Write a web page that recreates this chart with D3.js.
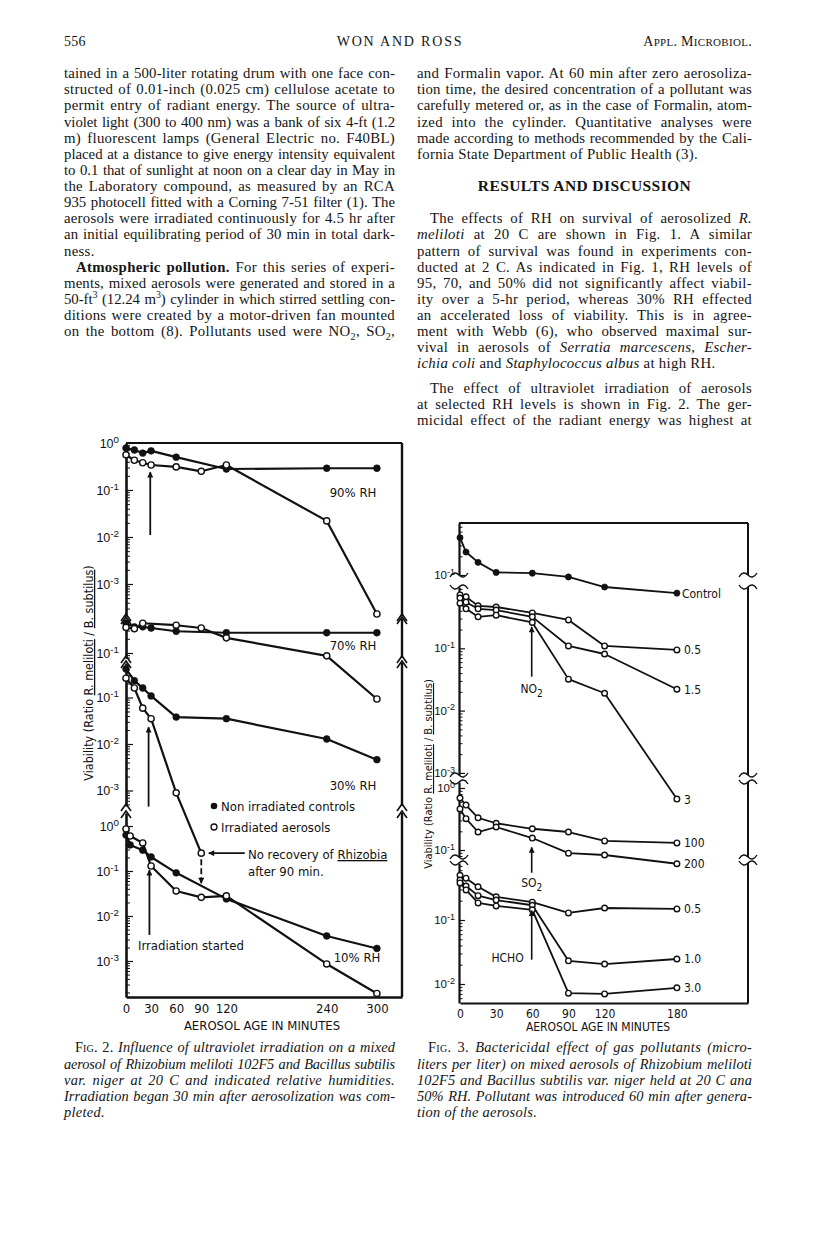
<!DOCTYPE html>
<html><head><meta charset="utf-8">
<script src="https://cdn.jsdelivr.net/npm/d3@7"></script>
<style>
body{margin:0;background:#fff;}
#page{position:relative;width:816px;height:1251px;overflow:hidden;font-family:"Liberation Serif","Times New Roman",serif;color:#141414;background:#fff;}
.ln{position:absolute;height:18px;line-height:18px;font-size:14.8px;letter-spacing:0.3px;white-space:nowrap;}
.cap{font-size:14.4px;letter-spacing:0.3px;}
.hd{font-size:14px;}
.sc{font-variant:small-caps;font-style:normal;}
sub,sup{line-height:0;font-size:10px;}
svg{position:absolute;left:0;top:0;}
</style></head>
<body><div id="page"></div>
<script>
// ---------------- Fig. 2 data (time in minutes, viability ratio) ----------------
const fig2XTicks=[0,30,60,90,120,240,300];
const rh90CtrlT=[0,10,20,30,60,120,240,300];
const rh90CtrlV=[0.78,0.71,0.61,0.68,0.50,0.28,0.29,0.29];
const rh90IrrT=[0,10,20,30,60,90,120,240,300];
const rh90IrrV=[0.56,0.43,0.38,0.34,0.31,0.25,0.34,0.022,0.00023];
const rh70CtrlT=[0,10,20,30,60,120,240,300];
const rh70CtrlV=[0.43,0.36,0.36,0.34,0.29,0.27,0.27,0.27];
const rh70IrrT=[0,10,20,60,90,120,240,300];
const rh70IrrV=[0.35,0.33,0.43,0.39,0.34,0.21,0.087,0.0105];
const rh30CtrlT=[0,10,20,30,60,120,240,300];
const rh30CtrlV=[0.41,0.23,0.16,0.108,0.038,0.035,0.0128,0.0046];
const rh30IrrT=[0,10,20,30,60,90];
const rh30IrrV=[0.26,0.16,0.059,0.035,0.00089,0.000045];
const rh10CtrlT=[0,5,20,30,60,120,240,300];
const rh10CtrlV=[0.63,0.38,0.29,0.205,0.091,0.024,0.0036,0.0019];
const rh10IrrT=[0,5,20,30,60,90,120,240,300];
const rh10IrrV=[0.86,0.60,0.42,0.129,0.036,0.026,0.028,0.00086,0.00019];
const fig2PanelLabels=["90% RH","70% RH","30% RH","10% RH"];

// ---------------- Fig. 3 data ----------------
const fig3XTicks=[0,30,60,90,120,180];
const fig3T=[0,5,15,30,60,90,120,180];
const ctrlV=[0.40,0.235,0.16,0.11,0.107,0.093,0.064,0.051];
const no2_05V=[0.72,0.67,0.48,0.46,0.37,0.285,0.109,0.094];
const no2_15V=[0.64,0.55,0.43,0.41,0.32,0.109,0.081,0.022];
const no2_3V=[0.53,0.43,0.32,0.34,0.26,0.032,0.019,0.00038];
const so2_100V=[0.69,0.53,0.33,0.27,0.22,0.195,0.14,0.13];
const so2_200V=[0.46,0.32,0.195,0.235,0.156,0.089,0.083,0.06];
const hcho_05V=[0.50,0.45,0.33,0.23,0.19,0.129,0.154,0.149];
const hcho_10V=[0.42,0.34,0.24,0.205,0.17,0.023,0.0205,0.0246];
const hcho_30V=[0.38,0.295,0.185,0.166,0.144,0.0072,0.0070,0.0087];
const fig3SeriesLabels=["Control","0.5","1.5","3","100","200","0.5","1.0","3.0"];
const pollutantLabels=["NO","SO","HCHO"];

// ---------------- page text ----------------
const L=64, LW=331, R=417, RW=335;
const textLines=[
 {x:64,y:42,h:"556",cls:"hd"},
 {x:300,y:42,w:200,h:"WON AND ROSS",cls:"hd",c:1,ls:1.8},
 {x:600,y:42,w:152,h:"A<span style='font-size:11px'>PPL</span>. M<span style='font-size:11px'>ICROBIOL</span>.",cls:"hd",r:1},
 {x:L,y:73,w:LW,j:1,h:"tained in a 500-liter rotating drum with one face con-"},
 {x:L,y:89,w:LW,j:1,h:"structed of 0.01-inch (0.025 cm) cellulose acetate to"},
 {x:L,y:105,w:LW,j:1,h:"permit entry of radiant energy. The source of ultra-"},
 {x:L,y:122,w:LW,j:1,h:"violet light (300 to 400 nm) was a bank of six 4-ft (1.2"},
 {x:L,y:138,w:LW,j:1,h:"m) fluorescent lamps (General Electric no. F40BL)"},
 {x:L,y:154,w:LW,j:1,h:"placed at a distance to give energy intensity equivalent"},
 {x:L,y:170,w:LW,j:1,h:"to 0.1 that of sunlight at noon on a clear day in May in"},
 {x:L,y:186,w:LW,j:1,h:"the Laboratory compound, as measured by an RCA"},
 {x:L,y:202,w:LW,j:1,h:"935 photocell fitted with a Corning 7-51 filter (1). The"},
 {x:L,y:218,w:LW,j:1,h:"aerosols were irradiated continuously for 4.5 hr after"},
 {x:L,y:234,w:LW,j:1,h:"an initial equilibrating period of 30 min in total dark-"},
 {x:L,y:251,h:"ness."},
 {x:L+12,y:267,w:LW-12,j:1,h:"<b>Atmospheric pollution.</b> For this series of experi-"},
 {x:L,y:283,w:LW,j:1,h:"ments, mixed aerosols were generated and stored in a"},
 {x:L,y:299,w:LW,j:1,h:"50-ft<sup>3</sup> (12.24 m<sup>3</sup>) cylinder in which stirred settling con-"},
 {x:L,y:315,w:LW,j:1,h:"ditions were created by a motor-driven fan mounted"},
 {x:L,y:331,w:LW,j:1,h:"on the bottom (8). Pollutants used were NO<sub>2</sub>, SO<sub>2</sub>,"},
 {x:R,y:73,w:RW,j:1,h:"and Formalin vapor. At 60 min after zero aerosoliza-"},
 {x:R,y:89,w:RW,j:1,h:"tion time, the desired concentration of a pollutant was"},
 {x:R,y:105,w:RW,j:1,h:"carefully metered or, as in the case of Formalin, atom-"},
 {x:R,y:122,w:RW,j:1,h:"ized into the cylinder. Quantitative analyses were"},
 {x:R,y:138,w:RW,j:1,h:"made according to methods recommended by the Cali-"},
 {x:R,y:154,h:"fornia State Department of Public Health (3)."},
 {x:R,y:186,w:RW,c:1,h:"<b style='font-size:15.5px;letter-spacing:0.4px'>RESULTS AND DISCUSSION</b>"},
 {x:R+13,y:218,w:RW-13,j:1,h:"The effects of RH on survival of aerosolized <i>R.</i>"},
 {x:R,y:234,w:RW,j:1,h:"<i>meliloti</i> at 20 C are shown in Fig. 1. A similar"},
 {x:R,y:251,w:RW,j:1,h:"pattern of survival was found in experiments con-"},
 {x:R,y:267,w:RW,j:1,h:"ducted at 2 C. As indicated in Fig. 1, RH levels of"},
 {x:R,y:283,w:RW,j:1,h:"95, 70, and 50% did not significantly affect viabil-"},
 {x:R,y:299,w:RW,j:1,h:"ity over a 5-hr period, whereas 30% RH effected"},
 {x:R,y:315,w:RW,j:1,h:"an accelerated loss of viability. This is in agree-"},
 {x:R,y:331,w:RW,j:1,h:"ment with Webb (6), who observed maximal sur-"},
 {x:R,y:347,w:RW,j:1,h:"vival in aerosols of <i>Serratia marcescens</i>, <i>Escher-</i>"},
 {x:R,y:363,h:"<i>ichia coli</i> and <i>Staphylococcus albus</i> at high RH."},
 {x:R+13,y:388,w:RW-13,j:1,h:"The effect of ultraviolet irradiation of aerosols"},
 {x:R,y:404,w:RW,j:1,h:"at selected RH levels is shown in Fig. 2. The ger-"},
 {x:R,y:420,w:RW,j:1,h:"micidal effect of the radiant energy was highest at"},
 {x:L+11,y:1047,w:LW-11,j:1,cls:"cap",h:"<span class='sc'>Fig. 2.</span> <i>Influence of ultraviolet irradiation on a mixed</i>"},
 {x:L,y:1064,w:LW,j:1,cls:"cap",h:"<i>aerosol of Rhizobium meliloti 102F5 and Bacillus subtilis</i>"},
 {x:L,y:1080,w:LW,j:1,cls:"cap",h:"<i>var. niger at 20 C and indicated relative humidities.</i>"},
 {x:L,y:1096,w:LW,j:1,cls:"cap",h:"<i>Irradiation began 30 min after aerosolization was com-</i>"},
 {x:L,y:1112,cls:"cap",h:"<i>pleted.</i>"},
 {x:R+11,y:1047,w:RW-11,j:1,cls:"cap",h:"<span class='sc'>Fig. 3.</span> <i>Bactericidal effect of gas pollutants (micro-</i>"},
 {x:R,y:1064,w:RW,j:1,cls:"cap",h:"<i>liters per liter) on mixed aerosols of Rhizobium meliloti</i>"},
 {x:R,y:1080,w:RW,j:1,cls:"cap",h:"<i>102F5 and Bacillus subtilis var. niger held at 20 C ana</i>"},
 {x:R,y:1096,w:RW,j:1,cls:"cap",h:"<i>50% RH. Pollutant was introduced 60 min after genera-</i>"},
 {x:R,y:1112,cls:"cap",h:"<i>tion of the aerosols.</i>"}
];

const page=d3.select('#page');
textLines.forEach(T=>{
  const d=page.append('div').attr('class','ln '+(T.cls||'')).style('left',T.x+'px').style('top',(T.y-9)+'px');
  if(T.w) d.style('width',T.w+'px');
  if(T.c) d.style('text-align','center');
  if(T.r) d.style('text-align','right');
  if(T.ls) d.style('letter-spacing',T.ls+'px');
  const s=d.append('span').html(T.h);
  if(T.j){
    let nat=s.node().getBoundingClientRect().width;
    const n=(s.node().textContent.match(/ /g)||[]).length;
    if(nat>T.w-n*1){ // too long: tighten letters
      const chars=s.node().textContent.length;
      const ls=0.3-((nat-(T.w-n*1))/chars);
      s.style('letter-spacing',ls+'px');
      nat=s.node().getBoundingClientRect().width;
    }
    if(n>0) s.style('word-spacing',((T.w-nat)/n)+'px');
  }
});

// ---------------- charts ----------------
const FONT="'Liberation Sans Narrow','DejaVu Sans Condensed','Roboto Condensed','Liberation Sans',sans-serif";
const svg=page.append('svg').attr('width',816).attr('height',1251).style('font-family',FONT);
const defs=svg.append('defs');
defs.append('marker').attr('id','ah2').attr('viewBox','0 0 10 10').attr('refX',9).attr('refY',5)
  .attr('markerWidth',11).attr('markerHeight',6).attr('markerUnits','userSpaceOnUse').attr('orient','auto')
  .append('path').attr('d','M0,0L10,5L0,10Z').attr('fill','#111');

function panelScale(top,bottom,y0,dec){
  return d3.scaleLog().domain([Math.pow(10,-(top-y0)/dec),Math.pow(10,-(bottom-y0)/dec)]).range([top,bottom]);
}
function logTicks(sc){
  const [a,b]=sc.domain(); const lo=Math.min(a,b), hi=Math.max(a,b);
  const maj=[],min=[];
  for(let e=Math.floor(Math.log10(lo))-1;e<=Math.ceil(Math.log10(hi))+1;e++){
    for(let k=1;k<10;k++){const v=k*Math.pow(10,e); if(v>=lo*0.999&&v<=hi*1.001)(k===1?maj:min).push(v);}
  }
  return {maj,min};
}
function supLabels(g,fs){
  g.selectAll('.tick text').each(function(d){
    const t=d3.select(this); const txt=t.text(); if(!txt) return;
    const e=Math.round(Math.log10(d));
    t.text('').attr('font-size',fs).attr('fill','#111');
    t.append('tspan').text('10');
    t.append('tspan').attr('dy','-0.5em').attr('font-size',fs*0.78).text(e===0?'0':'-'+(-e));
  });
}
function drawLeftAxis(g,sc,x,labelExps,o){
  const {maj,min}=logTicks(sc);
  const ax=d3.axisLeft(sc).tickValues(maj).tickSize(-o.major).tickSizeOuter(0).tickPadding(o.pad)
    .tickFormat(d=>labelExps.includes(Math.round(Math.log10(d)))?'x':'');
  const ga=g.append('g').attr('transform',`translate(${x},0)`).call(ax);
  ga.select('.domain').attr('stroke','#111').attr('stroke-width',o.sw);
  ga.selectAll('.tick line').attr('stroke','#111').attr('stroke-width',1.2);
  supLabels(ga,o.fs);
  const gm=g.append('g').attr('transform',`translate(${x},0)`)
    .call(d3.axisLeft(sc).tickValues(min).tickSize(-o.minor).tickSizeOuter(0).tickFormat(''));
  gm.select('.domain').remove();
  gm.selectAll('.tick line').attr('stroke','#111').attr('stroke-width',1);
}
function chevron(g,x,y,w){
  g.append('path').attr('d',`M${x-w},${y+5}L${x},${y-2}L${x+w},${y+5}`).attr('fill','none').attr('stroke','#111').attr('stroke-width',1.6);
}
function tilde(g,x,y,dir){
  g.append('path').attr('d',`M${x-9},${y+2*dir}C${x-6},${y-3*dir} ${x-3},${y-3*dir} ${x},${y}C${x+3},${y+3*dir} ${x+6},${y+3*dir} ${x+9},${y-2*dir}`)
   .attr('fill','none').attr('stroke','#111').attr('stroke-width',1.4);
}
function drawSeries(g,x,y,T,V,o){
  const pts=T.map((t,i)=>({t,v:V[i]}));
  g.append('path').datum(pts).attr('d',d3.line().x(d=>x(d.t)).y(d=>y(d.v)))
   .attr('fill','none').attr('stroke','#111').attr('stroke-width',o.lw).attr('stroke-linejoin','round');
  return pts;
}
function drawMarks(g,x,y,pts,filled,o){
  g.selectAll(null).data(pts).enter().append('circle')
   .attr('cx',d=>x(d.t)).attr('cy',d=>y(d.v)).attr('r',filled?o.rf:o.ro)
   .attr('fill',filled?'#111':'#fff').attr('stroke','#111').attr('stroke-width',filled?0.6:1.4);
}

// ======== FIG 2 ========
(function(){
  const g=svg.append('g');
  const x=d3.scaleLinear().domain([0,330]).range([126,402]);
  const X0=126, X1=402;
  const panels=[
    {sc:panelScale(443,616,443,47),labels:[0,-1,-2,-3]},
    {sc:panelScale(619,658,606,47),labels:[-1]},
    {sc:panelScale(663,806,651,46.5),labels:[-1,-2,-3]},
    {sc:panelScale(813,997,826,45),labels:[0,-1,-2,-3]}
  ];
  const o={major:7,minor:4,pad:7,sw:2.6,fs:12.5};
  panels.forEach(p=>{
    drawLeftAxis(g,p.sc,X0,p.labels,o);
    const [t,b]=p.sc.range();
    g.append('line').attr('x1',X1).attr('x2',X1).attr('y1',t).attr('y2',b).attr('stroke','#111').attr('stroke-width',2.4);
  });
  for(let i=0;i<panels.length-1;i++){
    const b=panels[i].sc.range()[1], t=panels[i+1].sc.range()[0];
    [X0,X1].forEach(xx=>{chevron(g,xx,b,5);chevron(g,xx,t,5);});
  }
  g.append('line').attr('x1',X0).attr('x2',X1).attr('y1',443).attr('y2',443).attr('stroke','#111').attr('stroke-width',2.2);
  const gx=g.append('g').attr('transform','translate(0,997)')
    .call(d3.axisBottom(x).tickValues(fig2XTicks).tickSize(0).tickSizeOuter(0).tickPadding(7));
  gx.select('.domain').attr('stroke','#111').attr('stroke-width',2.6);
  gx.selectAll('text').attr('font-size',13).attr('fill','#111').attr('font-family',FONT);
  g.append('text').attr('x',262).attr('y',1030).attr('text-anchor','middle').attr('font-size',13).attr('fill','#111')
   .text('AEROSOL AGE IN MINUTES');
  const yt=g.append('text').attr('transform','translate(93,673) rotate(-90)').attr('text-anchor','middle').attr('font-size',12.5).attr('fill','#111');
  yt.append('tspan').text('Viability (Ratio ');
  yt.append('tspan').attr('text-decoration','underline').text('R. meliloti');
  yt.append('tspan').text(' / ');
  yt.append('tspan').attr('text-decoration','underline').text('B. subtilus');
  yt.append('tspan').text(')');

  const opt={lw:2.2,rf:3.4,ro:3.1};
  const sets=[
    [0,rh90CtrlT,rh90CtrlV,true],[0,rh90IrrT,rh90IrrV,false],
    [1,rh70CtrlT,rh70CtrlV,true],[1,rh70IrrT,rh70IrrV,false],
    [2,rh30CtrlT,rh30CtrlV,true],[2,rh30IrrT,rh30IrrV,false],
    [3,rh10CtrlT,rh10CtrlV,true],[3,rh10IrrT,rh10IrrV,false]
  ];
  const drawn=sets.map(s=>({s,pts:drawSeries(g,x,panels[s[0]].sc,s[1],s[2],opt)}));
  drawn.forEach(d=>drawMarks(g,x,panels[d.s[0]].sc,d.pts,d.s[3],opt));

  const lab=[[353,497],[353,650],[353,790],[357,962]];
  fig2PanelLabels.forEach((t,i)=>g.append('text').attr('x',lab[i][0]).attr('y',lab[i][1]).attr('text-anchor','middle')
    .attr('font-size',13).attr('fill','#111').text(t));
  const arrow=(x1,y1,x2,y2,dash)=>g.append('line').attr('x1',x1).attr('y1',y1).attr('x2',x2).attr('y2',y2)
     .attr('stroke','#111').attr('stroke-width',1.8).attr('stroke-dasharray',dash||null).attr('marker-end','url(#ah2)');
  const p0=panels[0].sc,p2=panels[2].sc,p3=panels[3].sc;
  arrow(x(29),p0(0.011),x(29),p0(0.24));
  arrow(x(27),p2(0.00045),x(27),p2(0.023));
  arrow(x(28),p3(0.0038),x(28),p3(0.105));
  arrow(x(142),p2(0.000045),x(99),p2(0.000045));
  arrow(x(90),p2(0.000045)+6,x(90),p2(0.000045)+30,'6,3');
  g.append('circle').attr('cx',214).attr('cy',806).attr('r',3.3).attr('fill','#111');
  g.append('text').attr('x',221).attr('y',811).attr('font-size',13).attr('fill','#111').text('Non irradiated controls');
  g.append('circle').attr('cx',214).attr('cy',827).attr('r',3).attr('fill','#fff').attr('stroke','#111').attr('stroke-width',1.3);
  g.append('text').attr('x',221).attr('y',832).attr('font-size',13).attr('fill','#111').text('Irradiated aerosols');
  const nr=g.append('text').attr('x',248).attr('y',859).attr('font-size',13).attr('fill','#111');
  nr.append('tspan').text('No recovery of ');
  nr.append('tspan').attr('text-decoration','underline').text('Rhizobia');
  g.append('text').attr('x',248).attr('y',876).attr('font-size',13).attr('fill','#111').text('after 90 min.');
  g.append('text').attr('x',138).attr('y',950).attr('font-size',13).attr('fill','#111').text('Irradiation started');
})();

// ======== FIG 3 ========
(function(){
  const g=svg.append('g');
  const x=d3.scaleLinear().domain([0,239]).range([460,748]);
  const X0=459, X1=748;
  const panels=[
    {sc:panelScale(523,575,513,62),labels:[-1]},
    {sc:panelScale(587,775,586,62.3),labels:[-1,-2,-3]},
    {sc:panelScale(782,857,788,62),labels:[0,-1]},
    {sc:panelScale(863,1003,856,64),labels:[-1,-2]}
  ];
  const o={major:6,minor:3.5,pad:4,sw:2.2,fs:11.5};
  panels.forEach(p=>{
    drawLeftAxis(g,p.sc,X0,p.labels,o);
    const [t,b]=p.sc.range();
    g.append('line').attr('x1',X1).attr('x2',X1).attr('y1',t).attr('y2',b).attr('stroke','#111').attr('stroke-width',2);
  });
  for(let i=0;i<panels.length-1;i++){
    const b=panels[i].sc.range()[1], t=panels[i+1].sc.range()[0];
    [X0,X1].forEach(xx=>{tilde(g,xx,b,1);tilde(g,xx,t,-1);});
  }
  g.append('line').attr('x1',X0).attr('x2',X1).attr('y1',523).attr('y2',523).attr('stroke','#111').attr('stroke-width',2);
  const gx=g.append('g').attr('transform','translate(0,1003)')
    .call(d3.axisBottom(x).tickValues(fig3XTicks).tickSize(0).tickSizeOuter(0).tickPadding(6));
  gx.select('.domain').attr('stroke','#111').attr('stroke-width',2.2);
  gx.selectAll('text').attr('font-size',12).attr('fill','#111').attr('font-family',FONT);
  g.append('text').attr('x',598).attr('y',1031).attr('text-anchor','middle').attr('font-size',12).attr('fill','#111')
   .text('AEROSOL AGE IN MINUTES');
  const yt=g.append('text').attr('transform','translate(432,774) rotate(-90)').attr('text-anchor','middle').attr('font-size',11).attr('fill','#111');
  yt.append('tspan').text('Viability (Ratio ');
  yt.append('tspan').attr('text-decoration','underline').text('R. meliloti');
  yt.append('tspan').text(' / ');
  yt.append('tspan').attr('text-decoration','underline').text('B. subtilus');
  yt.append('tspan').text(')');

  const opt={lw:1.8,rf:3.1,ro:2.8};
  const sets=[
    [0,ctrlV,true],[1,no2_05V,false],[1,no2_15V,false],[1,no2_3V,false],
    [2,so2_100V,false],[2,so2_200V,false],
    [3,hcho_05V,false],[3,hcho_10V,false],[3,hcho_30V,false]
  ];
  const drawn=sets.map(s=>({s,pts:drawSeries(g,x,panels[s[0]].sc,fig3T,s[1],opt)}));
  drawn.forEach(d=>drawMarks(g,x,panels[d.s[0]].sc,d.pts,d.s[2],opt));
  drawn.forEach((d,i)=>{
    const last=d.pts[d.pts.length-1];
    g.append('text').attr('x',x(last.t)+(i===0?5:7)).attr('y',panels[d.s[0]].sc(last.v)+4.5)
      .attr('font-size',12).attr('fill','#111').text(fig3SeriesLabels[i]);
  });
  const arrow=(x1,y1,x2,y2)=>g.append('line').attr('x1',x1).attr('y1',y1).attr('x2',x2).attr('y2',y2)
     .attr('stroke','#111').attr('stroke-width',1.6).attr('marker-end','url(#ah2)');
  const p1=panels[1].sc,p2=panels[2].sc,p3=panels[3].sc;
  arrow(x(59.5),p1(0.035),x(59.5),p1(0.22));
  arrow(x(59.5),p2(0.043),x(59.5),p2(0.11));
  arrow(x(59.5),p3(0.024),x(59.5),p3(0.14));
  const pl=[[x(59.5),p1(0.035)+16,'middle'],[x(59.5),p2(0.043)+14,'middle'],[x(59.5)-8,p3(0.024)+2,'end']];
  pollutantLabels.forEach((t,i)=>{
    const tx=g.append('text').attr('x',pl[i][0]).attr('y',pl[i][1]).attr('text-anchor',pl[i][2]).attr('font-size',12).attr('fill','#111');
    tx.append('tspan').text(t);
    if(i<2) tx.append('tspan').attr('dy',4).attr('font-size',10).text('2');
  });
})();
</script>
</body></html>
